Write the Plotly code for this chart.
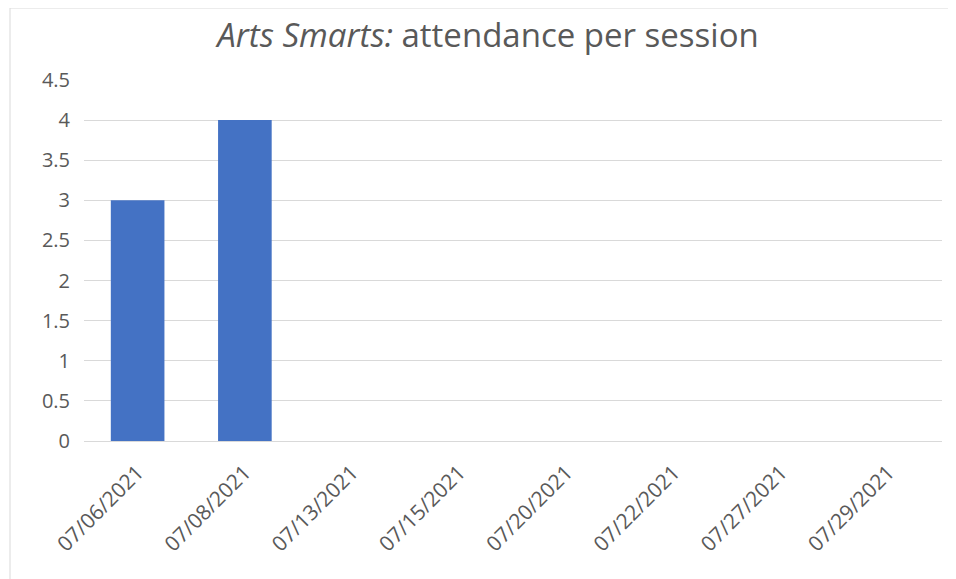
import plotly.graph_objects as go

categories = ["07/06/2021", "07/08/2021", "07/13/2021", "07/15/2021",
              "07/20/2021", "07/22/2021", "07/27/2021", "07/29/2021"]
attendance = [3, 4, 0, 0, 0, 0, 0, 0]
y_ticks = [0, 0.5, 1, 1.5, 2, 2.5, 3, 3.5, 4, 4.5]
y_tick_labels = ["0", "0.5", "1", "1.5", "2", "2.5", "3", "3.5", "4", "4.5"]

FONT = "Open Sans"
GRAY = "#595959"
OFF = 8  # default body margin of the html page

fig = go.Figure(go.Bar(
    x=categories, y=attendance,
    marker=dict(color="#4472C4", line=dict(width=0)),
))

fig.update_layout(
    width=956, height=579,
    margin=dict(l=84 - OFF, r=956 - (942 - OFF), t=80 - OFF, b=579 - (441 - OFF)),
    paper_bgcolor="white", plot_bgcolor="white",
    bargap=0.5,
    showlegend=False,
    title=dict(
        text="<i>Arts Smarts:</i> attendance per session",
        font=dict(family=FONT, size=33, color=GRAY),
        x=(488 - OFF) / 956, xref="container", xanchor="center",
        y=1 - (35 - OFF) / 579, yref="container", yanchor="middle",
    ),
    xaxis=dict(
        type="category",
        tickangle=-45,
        tickfont=dict(family=FONT, size=21, color=GRAY),
        showgrid=False, showline=False, ticks="",
        zeroline=False, ticklabelstandoff=14,
    ),
    yaxis=dict(
        range=[0, 4.5],
        tickvals=y_ticks, ticktext=y_tick_labels,
        tickfont=dict(family=FONT, size=20, color=GRAY),
        showgrid=True, gridcolor="#D9D9D9", gridwidth=1,
        zeroline=True, zerolinecolor="#D9D9D9", zerolinewidth=1,
        showline=False, ticks="", ticklabelstandoff=13,
    ),
    shapes=[dict(
        type="rect", xref="paper", yref="paper",
        x0=(10 - 84) / 858, x1=(955 - 84) / 858,
        y0=(441 - 590) / 361, y1=(441 - 8) / 361,
        line=dict(color="#D9D9D9", width=1), fillcolor="rgba(0,0,0,0)",
        layer="below",
    )],
)

fig.write_html("out.html")
